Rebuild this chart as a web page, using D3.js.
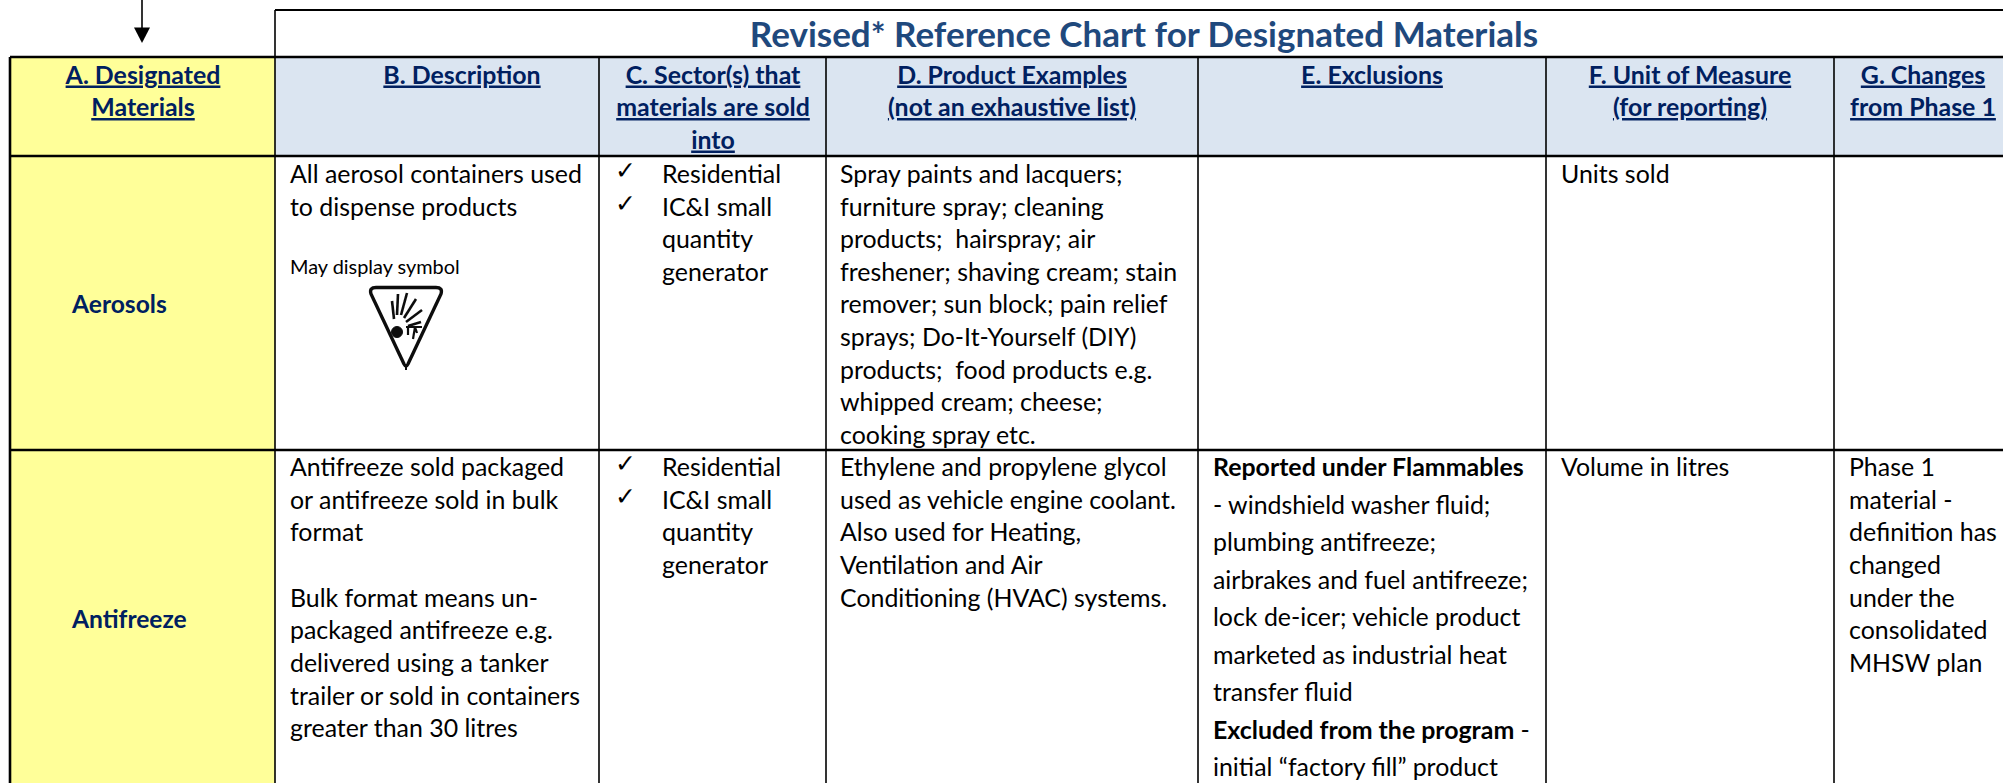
<!DOCTYPE html>
<html>
<head>
<meta charset="utf-8">
<script src="https://cdn.jsdelivr.net/npm/d3@7"></script>
<style>
  html, body { margin: 0; padding: 0; background: #fff; overflow: hidden; }
  svg { display: block; font-family: Lato, "Open Sans", sans-serif; }
</style>
</head>
<body>
<div id="viz"></div>
<script>
// ── DATA ─────────────────────────────────────────────────────────────────────
const chartTitle = "Revised* Reference Chart for Designated Materials";
const columns = ["A", "B", "C", "D", "E", "F", "G"];
const headerLines = [
  ["A. Designated", "Materials"],
  ["B. Description"],
  ["C. Sector(s) that", "materials are sold", "into"],
  ["D. Product Examples", "(not an exhaustive list)"],
  ["E. Exclusions"],
  ["F. Unit of Measure", "(for reporting)"],
  ["G. Changes", "from Phase 1"]
];
const materials = ["Aerosols", "Antifreeze"];
const sectors = ["Residential", "IC&I small", "quantity", "generator"];
const sectorChecks = [0, 1];

const aerosolDescription = ["All aerosol containers used", "to dispense products"];
const aerosolSymbolNote = "May display symbol";
const aerosolProducts = ["Spray paints and lacquers;", "furniture spray; cleaning", "products;  hairspray; air",
  "freshener; shaving cream; stain", "remover; sun block; pain relief", "sprays; Do-It-Yourself (DIY)",
  "products;  food products e.g.", "whipped cream; cheese;", "cooking spray etc."];
const aerosolUnit = ["Units sold"];

const antifreezeDescription = ["Antifreeze sold packaged", "or antifreeze sold in bulk", "format", "",
  "Bulk format means un-", "packaged antifreeze e.g.", "delivered using a tanker",
  "trailer or sold in containers", "greater than 30 litres"];
const antifreezeProducts = ["Ethylene and propylene glycol", "used as vehicle engine coolant.",
  "Also used for Heating,", "Ventilation and Air", "Conditioning (HVAC) systems."];
// each line is a list of [text, isBold] runs
const antifreezeExclusions = [
  [["Reported under Flammables", true]],
  [["- windshield washer fluid;", false]],
  [["plumbing antifreeze;", false]],
  [["airbrakes and fuel antifreeze;", false]],
  [["lock de-icer; vehicle product", false]],
  [["marketed as industrial heat", false]],
  [["transfer fluid", false]],
  [["Excluded from the program", true], [" -", false]],
  [["initial \u201cfactory fill\u201d product", false]]
];
const antifreezeUnit = ["Volume in litres"];
const antifreezeChanges = ["Phase 1", "material -", "definition has", "changed", "under the", "consolidated", "MHSW plan"];

// ── SETTINGS ─────────────────────────────────────────────────────────────────
const width = 2003, height = 783;
const navy = "#002060", titleBlue = "#1F497D", yellow = "#FFFF99", headerBlue = "#DBE5F1";
const bodySize = 24.9, headerSize = 24.9;

const svg = d3.select("#viz").append("svg")
    .attr("viewBox", [0, 0, width, height])
    .attr("width", width)
    .attr("height", height);

// column edges, text starts and header centres
const colLeft = d3.scaleOrdinal().domain(columns).range([10, 275, 599, 826, 1198, 1546, 1834]);
const colRight = d3.scaleOrdinal().domain(columns).range([275, 599, 826, 1198, 1546, 1834, 2003]);
const colText = d3.scaleOrdinal().domain(columns).range([72, 290, 662, 840, 1213, 1561, 1849]);
const colCentre = d3.scaleOrdinal().domain(columns).range([143, 462, 713, 1012, 1372, 1690, 1923]);
const rowEdge = d3.scaleOrdinal().domain(["title", "head", "aerosols", "antifreeze", "end"]).range([10, 57, 156, 450, 790]);

// line number -> baseline
const headLine = d3.scaleLinear().domain([0, 1]).range([83.5, 116]);
const aerosolLine = d3.scaleLinear().domain([0, 1]).range([183, 215.6]);
const antifreezeLine = d3.scaleLinear().domain([0, 1]).range([476, 508.65]);
const exclusionLine = d3.scaleLinear().domain([0, 1]).range([476, 513.5]);

// ── CELLS ────────────────────────────────────────────────────────────────────
svg.append("g").selectAll("rect")
  .data(columns)
  .join("rect")
    .attr("x", d => colLeft(d))
    .attr("y", rowEdge("head"))
    .attr("width", d => colRight(d) - colLeft(d))
    .attr("height", rowEdge("aerosols") - rowEdge("head"))
    .attr("fill", d => d === "A" ? yellow : headerBlue);

svg.append("rect")
    .attr("x", colLeft("A"))
    .attr("y", rowEdge("aerosols"))
    .attr("width", colRight("A") - colLeft("A"))
    .attr("height", rowEdge("end") - rowEdge("aerosols"))
    .attr("fill", yellow);

// ── RULES ────────────────────────────────────────────────────────────────────
const rules = svg.append("g").attr("stroke", "#000").attr("fill", "none");

rules.selectAll(".v")
  .data(columns)
  .join("line")
    .attr("class", "v")
    .attr("x1", d => colLeft(d))
    .attr("x2", d => colLeft(d))
    .attr("y1", d => d === "B" ? rowEdge("title") : rowEdge("head"))
    .attr("y2", rowEdge("end"))
    .attr("stroke-width", d => d === "A" ? 2.6 : 1.6);

rules.selectAll(".h")
  .data(["head", "aerosols", "antifreeze"])
  .join("line")
    .attr("class", "h")
    .attr("x1", colLeft("A"))
    .attr("x2", width)
    .attr("y1", d => rowEdge(d))
    .attr("y2", d => rowEdge(d))
    .attr("stroke-width", 2.4);

rules.append("line")
    .attr("x1", colLeft("B"))
    .attr("x2", width)
    .attr("y1", rowEdge("title"))
    .attr("y2", rowEdge("title"))
    .attr("stroke-width", 2);

// arrow above column A
svg.append("line")
    .attr("x1", colCentre("A") - 1).attr("x2", colCentre("A") - 1)
    .attr("y1", 0).attr("y2", 30)
    .attr("stroke", "#000").attr("stroke-width", 1.6);
svg.append("path")
    .attr("transform", `translate(${colCentre("A") - 1},0)`)
    .attr("d", "M-8,27.5L8,27.5L0,43Z")
    .attr("fill", "#000");

// ── TEXT ─────────────────────────────────────────────────────────────────────
svg.append("text")
    .attr("x", 1144)
    .attr("y", 47)
    .attr("text-anchor", "middle")
    .attr("font-size", 35)
    .attr("font-weight", 700)
    .attr("fill", titleBlue)
    .text(chartTitle);

headerLines.forEach((lines, c) => {
  svg.append("g").selectAll("text")
    .data(lines)
    .join("text")
      .attr("x", colCentre(columns[c]))
      .attr("y", (d, i) => headLine(i))
      .attr("text-anchor", "middle")
      .attr("font-size", headerSize)
      .attr("font-weight", 700)
      .attr("fill", navy)
      .attr("text-decoration", "underline")
      .text(d => d);
});

function bodyLines(lines, col, lineScale) {
  svg.append("g").selectAll("text")
    .data(lines)
    .join("text")
      .attr("x", colText(col))
      .attr("y", (d, i) => lineScale(i))
      .attr("font-size", bodySize)
      .attr("fill", "#000")
      .style("white-space", "pre")
      .text(d => d);
}

bodyLines(aerosolDescription, "B", aerosolLine);
bodyLines(sectors, "C", aerosolLine);
bodyLines(aerosolProducts, "D", aerosolLine);
bodyLines(aerosolUnit, "F", aerosolLine);

bodyLines(antifreezeDescription, "B", antifreezeLine);
bodyLines(sectors, "C", antifreezeLine);
bodyLines(antifreezeProducts, "D", antifreezeLine);
bodyLines(antifreezeUnit, "F", antifreezeLine);
bodyLines(antifreezeChanges, "G", antifreezeLine);

// exclusions mix bold and regular runs on one line
svg.append("g").selectAll("text")
  .data(antifreezeExclusions)
  .join("text")
    .attr("x", colText("E"))
    .attr("y", (d, i) => exclusionLine(i))
    .attr("font-size", bodySize)
    .style("white-space", "pre")
  .selectAll("tspan")
  .data(d => d)
  .join("tspan")
    .attr("font-weight", d => d[1] ? 700 : 400)
    .text(d => d[0]);

// row labels
svg.append("g").selectAll("text")
  .data(materials)
  .join("text")
    .attr("x", colText("A"))
    .attr("y", (d, i) => i === 0 ? aerosolLine(4) : antifreezeLine(4) + 21)
    .attr("font-size", 24.6)
    .attr("font-weight", 700)
    .attr("fill", navy)
    .text(d => d);

// check marks
[aerosolLine, antifreezeLine].forEach(lineScale => {
  svg.append("g").selectAll("text")
    .data(sectorChecks)
    .join("text")
      .attr("x", 615)
      .attr("y", d => lineScale(d) - 4)
      .attr("font-family", "DejaVu Sans")
      .attr("font-size", 25)
      .text("\u2713");
});

// hazard symbol under the note
svg.append("text")
    .attr("x", colText("B"))
    .attr("y", 274)
    .attr("font-size", 19.9)
    .text(aerosolSymbolNote);

const defs = svg.append("defs");
defs.append("filter").attr("id", "soft").append("feGaussianBlur").attr("stdDeviation", 0.6);

const symbol = svg.append("g")
    .attr("transform", "translate(406,285)")
    .attr("filter", "url(#soft)")
    .attr("stroke", "#111")
    .attr("fill", "none");
symbol.append("path")
    .attr("d", "M-30,2.5L30,2.5Q37,2.5 35,9L2,79Q0,83 -2,79L-35,9Q-37,2.5 -30,2.5Z")
    .attr("stroke-width", 3.4);
symbol.append("line").attr("x1", 0).attr("x2", 0).attr("y1", 80).attr("y2", 85).attr("stroke-width", 2);
symbol.append("g")
    .attr("stroke-width", 2.6)
    .selectAll("line")
    .data([[-12, 34, -14, 16], [-9, 30, -8, 9], [-5, 30, 1, 8], [-2, 33, 10, 14], [0, 37, 16, 25], [2, 41, 15, 37]])
    .join("line")
      .attr("x1", d => d[0]).attr("y1", d => d[1])
      .attr("x2", d => d[2]).attr("y2", d => d[3]);
symbol.append("circle").attr("cx", -9).attr("cy", 47).attr("r", 5.5).attr("fill", "#111");
symbol.append("path")
    .attr("d", "M0,42L16,42M2,42L2,50M9,42L7,54M9,42L11,48")
    .attr("stroke-width", 2.2);
</script>
</body>
</html>
